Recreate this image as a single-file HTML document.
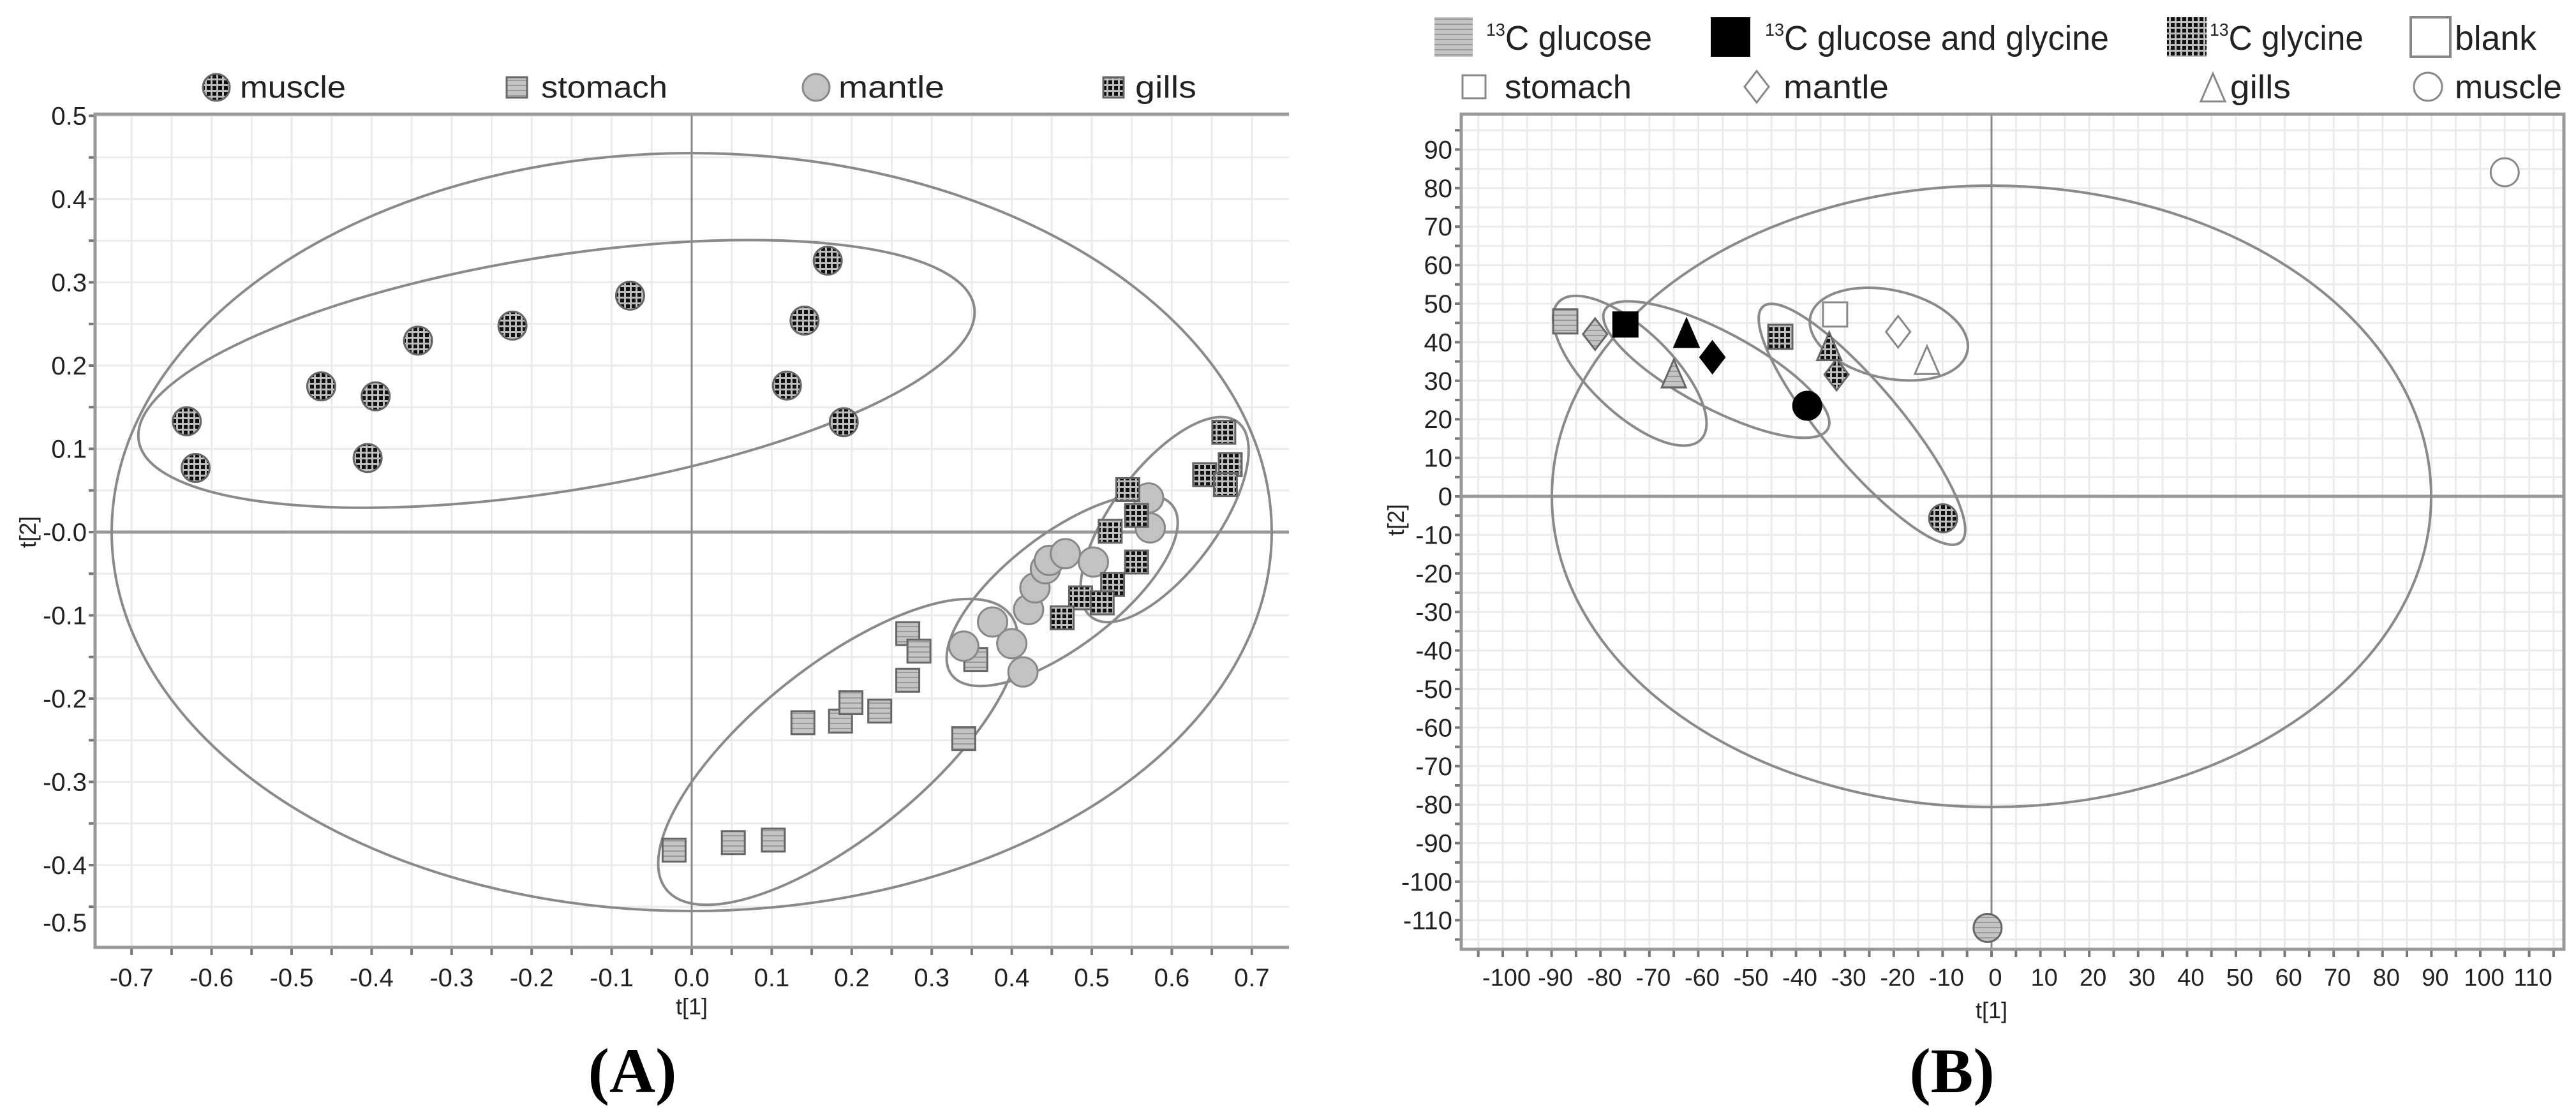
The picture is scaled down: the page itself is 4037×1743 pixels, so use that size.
<!DOCTYPE html>
<html><head><meta charset="utf-8"><style>
html,body{margin:0;padding:0;background:#fff;}
svg{display:block;font-family:"Liberation Sans",sans-serif;}
</style></head><body>
<svg id="root" width="4037" height="1743" viewBox="0 0 4037 1743" xmlns="http://www.w3.org/2000/svg">
<defs>
<pattern id="stripe" width="8" height="8" patternUnits="userSpaceOnUse"><rect width="8" height="8" fill="#c4c4c4"/><rect y="5" width="8" height="2" fill="#9a9a9a"/></pattern>
<pattern id="check" width="9" height="9" patternUnits="userSpaceOnUse"><rect width="9" height="9" fill="#bdbdbd"/><rect width="6" height="6" fill="#111"/></pattern>
</defs>
<g id="panelA"></g>
<g id="panelB"></g>
</svg>
<script>
// ---------- Panel A data ----------
const aTicksY = [0.5,0.4,0.3,0.2,0.1,0,-0.1,-0.2,-0.3,-0.4,-0.5];
const aTickLabelsY = ["0.5","0.4","0.3","0.2","0.1","-0.0","-0.1","-0.2","-0.3","-0.4","-0.5"];
const aTicksX = [-0.7,-0.6,-0.5,-0.4,-0.3,-0.2,-0.1,0,0.1,0.2,0.3,0.4,0.5,0.6,0.7];
const aTickLabelsX = ["-0.7","-0.6","-0.5","-0.4","-0.3","-0.2","-0.1","0.0","0.1","0.2","0.3","0.4","0.5","0.6","0.7"];
const aMuscleX = [-0.631,-0.620,-0.463,-0.395,-0.405,-0.342,-0.224,-0.077,0.170,0.141,0.119,0.190];
const aMuscleY = [0.133,0.077,0.175,0.163,0.089,0.230,0.248,0.284,0.326,0.254,0.176,0.132];
const aStomachX = [-0.022,0.052,0.102,0.139,0.186,0.199,0.235,0.270,0.270,0.284,0.340,0.355];
const aStomachY = [-0.382,-0.373,-0.370,-0.229,-0.227,-0.205,-0.215,-0.178,-0.122,-0.143,-0.248,-0.153];
const aMantleX = [0.340,0.376,0.400,0.414,0.421,0.429,0.442,0.447,0.467,0.502,0.573,0.571];
const aMantleY = [-0.137,-0.108,-0.134,-0.168,-0.093,-0.067,-0.044,-0.034,-0.026,-0.036,0.005,0.041];
const aGillsX = [0.665,0.673,0.641,0.667,0.545,0.556,0.523,0.556,0.526,0.486,0.513,0.463];
const aGillsY = [0.120,0.081,0.069,0.057,0.051,0.020,0.001,-0.036,-0.063,-0.079,-0.085,-0.103];
const aEllCX = [0,-0.169,0.183,0.463,0.591];
const aEllCY = [0,0.190,-0.264,-0.070,0.015];
// ---------- Panel B data ----------
const bTicksY = [90,80,70,60,50,40,30,20,10,0,-10,-20,-30,-40,-50,-60,-70,-80,-90,-100,-110];
const bTickLabelsY = bTicksY.map(String);
const bTicksX = [-100,-90,-80,-70,-60,-50,-40,-30,-20,-10,0,10,20,30,40,50,60,70,80,90,100,110];
const bTickLabelsX = bTicksX.map(String);
const bX = [-87.2,-81.1,-65.0,-0.8, -74.9,-57.1,-62.4,-37.7, -43.2,-31.7,-33.2,-9.9, -32.0,-19.1,-13.2,105];
const bY = [45.4,42.1,31.4,-112, 44.6,36.1,41.9,23.5, 41.4,31.6,38.5,-5.7, 47.2,42.7,34.9,84.1];
const bTissue = ["stomach","mantle","gills","muscle","stomach","mantle","gills","muscle","stomach","mantle","gills","muscle","stomach","mantle","gills","muscle"];
const bTreat = ["glucose","glucose","glucose","glucose","both","both","both","both","glycine","glycine","glycine","glycine","blank","blank","blank","blank"];
const bEllCX = [0,-74.0,-56.3,-26.5,-21.0];
const bEllCY = [0,32.6,32.9,18.7,42.1];

const NS="http://www.w3.org/2000/svg";
function mk(tag,attrs,parent){const e=document.createElementNS(NS,tag);for(const k in attrs)e.setAttribute(k,attrs[k]);parent.appendChild(e);return e;}

const axA={x:v=>1084+1254*v,y:v=>834-1305*v,l:149,r:2020,t:179,b:1485,noRight:true};
const axB={x:v=>3121+7.66*v,y:v=>778-6.04*v,l:2290,r:4018,t:179,b:1488};

function frame(g,ax,minorX,minorY){
  for(const v of minorX){const px=ax.x(v);if(px>ax.l+2&&px<ax.r-2){const l=mk('line',{x1:px,y1:ax.t,x2:px,y2:ax.b,stroke:'#ebebeb','stroke-width':3},g);}
    const tk=mk('line',{x1:px,y1:ax.b,x2:px,y2:ax.b+12,stroke:'#777','stroke-width':4},g);}
  for(const v of minorY){const py=ax.y(v);if(py>ax.t+2&&py<ax.b-2){const l=mk('line',{x1:ax.l,y1:py,x2:ax.r,y2:py,stroke:'#ebebeb','stroke-width':3},g);}
    if(py>ax.t&&py<ax.b){const tk=mk('line',{x1:ax.l-10,y1:py,x2:ax.l,y2:py,stroke:'#777','stroke-width':4},g);}}
  const z1=mk('line',{x1:ax.l,y1:ax.y(0),x2:ax.r,y2:ax.y(0),stroke:'#999','stroke-width':5},g);
  
  const z2=mk('line',{x1:ax.x(0),y1:ax.t,x2:ax.x(0),y2:ax.b,stroke:'#888','stroke-width':3},g);
  
  const d=ax.noRight?`M${ax.r},${ax.t} H${ax.l} V${ax.b} H${ax.r}`:`M${ax.l},${ax.t} H${ax.r} V${ax.b} H${ax.l} Z`;
  const fr=mk('path',{d:d,fill:'none',stroke:'#999','stroke-width':5},g);
  
}
function ellipse(g,ax,cx,cy,rx,ry,ang,name){
  const e=mk('ellipse',{cx:0,cy:0,rx:rx,ry:ry,fill:'none',stroke:'#8a8a8a','stroke-width':4,transform:`translate(${ax.x(cx)},${ax.y(cy)}) rotate(${ang})`},g);
  
}
function marker(g,shape,fill,px,py,s,name,stroke){
  let e;stroke=stroke||'#666';
  if(shape==='circle') e=mk('circle',{cx:px,cy:py,r:s,fill:fill,stroke:stroke,'stroke-width':3},g);
  else if(shape==='square') e=mk('rect',{x:px-s,y:py-s,width:2*s,height:2*s,fill:fill,stroke:stroke,'stroke-width':3},g);
  else if(shape==='diamond') e=mk('polygon',{points:`${px},${py-s*1.3} ${px+s},${py} ${px},${py+s*1.3} ${px-s},${py}`,fill:fill,stroke:stroke,'stroke-width':3},g);
  else e=mk('polygon',{points:`${px},${py-s*1.3} ${px+s},${py+s} ${px-s},${py+s}`,fill:fill,stroke:stroke,'stroke-width':3},g);
  
  return e;
}
function text(g,x,y,str,size,anchor,name,extra){
  const t=mk('text',Object.assign({x:x,y:y,'font-size':size,'text-anchor':anchor||'middle',fill:'#222'},extra||{}),g);
  t.textContent=str;return t;
}

(function(){
const g=document.getElementById('panelA');
const minorX=[],minorY=[];
for(let i=-14;i<=14;i++)minorX.push(i*0.05);
for(let i=-10;i<=10;i++)minorY.push(i*0.05);
frame(g,axA,minorX,minorY);
aTicksY.forEach((v,i)=>{let py=axA.y(v)+14;if(py>1460)py=1460;if(py<195)py=195;text(g,136,py,aTickLabelsY[i],40,'end','y-tick-label');});
aTicksX.forEach((v,i)=>text(g,axA.x(v),1546,aTickLabelsX[i],40,'middle','x-tick-label'));
text(g,1084,1590,'t[1]',36,'middle','x-axis-title');
text(g,0,0,'t[2]',36,'middle','y-axis-title',{transform:'translate(56,834) rotate(-90)'});
const rxA=[909,663,345,218,191],ryA=[594,184,134,88,82],angA=[0,-9.1,-38.7,-37.5,-53.3];
const enames=['ellipse-hotelling','ellipse-muscle','ellipse-stomach','ellipse-mantle','ellipse-gills'];
aEllCX.forEach((c,i)=>ellipse(g,axA,c,aEllCY[i],rxA[i],ryA[i],angA[i],enames[i]));
aStomachX.forEach((v,i)=>marker(g,'square','url(#stripe)',axA.x(v),axA.y(aStomachY[i]),18,'stomach-point'));
aMantleX.forEach((v,i)=>marker(g,'circle','#c2c2c2',axA.x(v),axA.y(aMantleY[i]),23,'mantle-point','#888'));
aGillsX.forEach((v,i)=>marker(g,'square','url(#check)',axA.x(v),axA.y(aGillsY[i]),18,'gills-point'));
aMuscleX.forEach((v,i)=>marker(g,'circle','url(#check)',axA.x(v),axA.y(aMuscleY[i]),22,'muscle-point'));
const lg=mk('g',{},g);
marker(lg,'circle','url(#check)',339,137,21,'legend-icon-muscle');
text(lg,376,153,'muscle',48,'start','legend-label-muscle',{textLength:166,lengthAdjust:'spacingAndGlyphs'});
marker(lg,'square','url(#stripe)',810,137,16,'legend-icon-stomach');
text(lg,848,153,'stomach',48,'start','legend-label-stomach',{textLength:198,lengthAdjust:'spacingAndGlyphs'});
marker(lg,'circle','#c2c2c2',1279,137,21,'legend-icon-mantle','#888');
text(lg,1314,153,'mantle',48,'start','legend-label-mantle',{textLength:166,lengthAdjust:'spacingAndGlyphs'});
marker(lg,'square','url(#check)',1745,137,16,'legend-icon-gills');
text(lg,1779,153,'gills',48,'start','legend-label-gills',{textLength:96,lengthAdjust:'spacingAndGlyphs'});
text(g,991,1712,'(A)',100,'middle','panel-label-a',{'font-family':'Liberation Serif, serif','font-weight':'bold',fill:'#000'});
})();

(function(){
const g=document.getElementById('panelB');
const minorX=[],minorY=[];
for(let v=-105;v<=115;v+=5)minorX.push(v);
for(let v=-115;v<=95;v+=5)minorY.push(v);
frame(g,axB,minorX,minorY);
bTicksY.forEach((v,i)=>text(g,2276,axB.y(v)+14,bTickLabelsY[i],40,'end','y-tick-label'));
bTicksX.forEach((v,i)=>text(g,axB.x(v)+6,1545,bTickLabelsX[i],38,'middle','x-tick-label'));
text(g,3121,1596,'t[1]',36,'middle','x-axis-title');
text(g,0,0,'t[2]',36,'middle','y-axis-title',{transform:'translate(2200,815) rotate(-90)'});
const rxB=[689,155,198,241,126],ryB=[487,65,60,61,69],angB=[0,44,28,50,12.5];
const enames=['ellipse-hotelling','ellipse-glucose','ellipse-glucose-glycine','ellipse-glycine','ellipse-blank'];
bEllCX.forEach((c,i)=>ellipse(g,axB,c,bEllCY[i],rxB[i],ryB[i],angB[i],enames[i]));
const fills={glucose:'url(#stripe)',both:'#000',glycine:'url(#check)',blank:'#fff'};
const shapes={stomach:'square',mantle:'diamond',gills:'triangle',muscle:'circle'};
bX.forEach((v,i)=>{
  const sz=bTissue[i]==='muscle'?22:19;
  const st=bTreat[i]==='both'?'#000':(bTreat[i]==='blank'?'#888':'#666');
  marker(g,shapes[bTissue[i]],fills[bTreat[i]],axB.x(v),axB.y(bY[i]),sz,bTreat[i]+'-'+bTissue[i]+'-point',st);
});
const lg=mk('g',{},g);
const r2=136;
const i1=mk('rect',{x:2248,y:27,width:60,height:62,fill:'url(#stripe)'},lg);
const t1=text(lg,2329,78,'',54,'start','legend-label-glucose',{textLength:260,lengthAdjust:'spacingAndGlyphs'});
t1.innerHTML='<tspan font-size="28" dy="-22">13</tspan><tspan dy="22">C glucose</tspan>';
const i2=mk('rect',{x:2681,y:27,width:62,height:62,fill:'#000'},lg);
const t2=text(lg,2766,78,'',54,'start','legend-label-glucose-glycine',{textLength:539,lengthAdjust:'spacingAndGlyphs'});
t2.innerHTML='<tspan font-size="28" dy="-22">13</tspan><tspan dy="22">C glucose and glycine</tspan>';
const i3=mk('rect',{x:3396,y:27,width:62,height:62,fill:'url(#check)'},lg);
const t3=text(lg,3463,78,'',54,'start','legend-label-glycine',{textLength:241,lengthAdjust:'spacingAndGlyphs'});
t3.innerHTML='<tspan font-size="28" dy="-22">13</tspan><tspan dy="22">C glycine</tspan>';
const i4=mk('rect',{x:3778,y:27,width:62,height:62,fill:'#fff',stroke:'#888','stroke-width':4},lg);
text(lg,3847,78,'blank',54,'start','legend-label-blank',{textLength:128,lengthAdjust:'spacingAndGlyphs'});
marker(lg,'square','#fff',2310,r2,18,'legend-icon-stomach','#888');
text(lg,2358,r2+18,'stomach',52,'start','legend-label-stomach',{textLength:199,lengthAdjust:'spacingAndGlyphs'});
marker(lg,'diamond','#fff',2753,r2,19,'legend-icon-mantle','#888');
text(lg,2795,r2+18,'mantle',52,'start','legend-label-mantle',{textLength:165,lengthAdjust:'spacingAndGlyphs'});
marker(lg,'triangle','#fff',3468,r2+4,19,'legend-icon-gills','#888');
text(lg,3495,r2+18,'gills',52,'start','legend-label-gills',{textLength:95,lengthAdjust:'spacingAndGlyphs'});
marker(lg,'circle','#fff',3805,r2,22,'legend-icon-muscle','#888');
text(lg,3847,r2+18,'muscle',52,'start','legend-label-muscle',{textLength:168,lengthAdjust:'spacingAndGlyphs'});
text(g,3059,1712,'(B)',100,'middle','panel-label-b',{'font-family':'Liberation Serif, serif','font-weight':'bold',fill:'#000'});
})();
</script>
</body></html>
